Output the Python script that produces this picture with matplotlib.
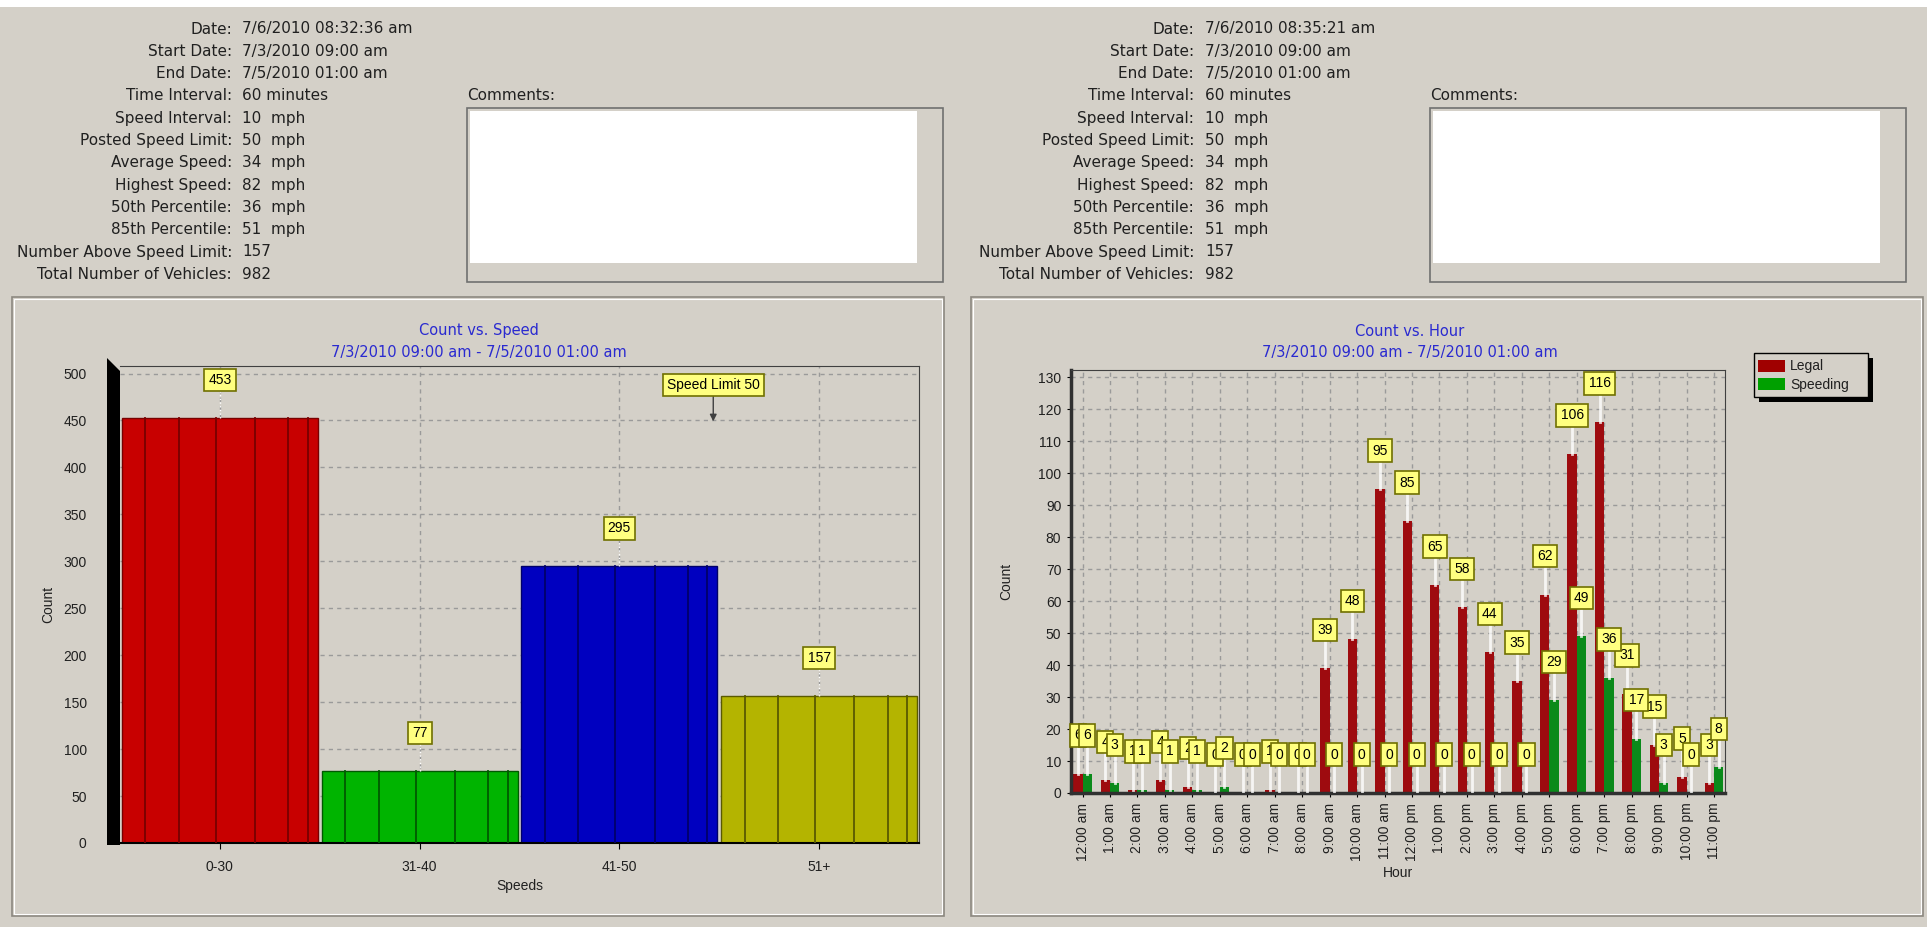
import matplotlib
matplotlib.use("Agg")
import matplotlib.pyplot as plt
from matplotlib.patches import Rectangle, Polygon
import numpy as np

plt.rcParams['font.family'] = ['Liberation Sans', 'DejaVu Sans']

W, H = 1927, 927
BG = '#d4d0c8'

# header info
hdr_labels = ["Date:", "Start Date:", "End Date:", "Time Interval:", "Speed Interval:",
              "Posted Speed Limit:", "Average Speed:", "Highest Speed:", "50th Percentile:",
              "85th Percentile:", "Number Above Speed Limit:", "Total Number of Vehicles:"]
left_vals = ["7/6/2010 08:32:36 am", "7/3/2010 09:00 am", "7/5/2010 01:00 am", "60 minutes",
             "10  mph", "50  mph", "34  mph", "82  mph", "36  mph", "51  mph", "157", "982"]
right_vals = ["7/6/2010 08:35:21 am", "7/3/2010 09:00 am", "7/5/2010 01:00 am", "60 minutes",
              "10  mph", "50  mph", "34  mph", "82  mph", "36  mph", "51  mph", "157", "982"]

# count vs speed
speed_cats = ["0-30", "31-40", "41-50", "51+"]
speed_counts = [453, 77, 295, 157]
speed_colors = ['#c80000', '#00b400', '#0000c0', '#b4b400']
speed_dark = ['#780000', '#005a00', '#00006a', '#5a5a00']
speed_limit = 50

# count vs hour
hours = ["12:00 am", "1:00 am", "2:00 am", "3:00 am", "4:00 am", "5:00 am", "6:00 am",
         "7:00 am", "8:00 am", "9:00 am", "10:00 am", "11:00 am", "12:00 pm", "1:00 pm",
         "2:00 pm", "3:00 pm", "4:00 pm", "5:00 pm", "6:00 pm", "7:00 pm", "8:00 pm",
         "9:00 pm", "10:00 pm", "11:00 pm"]
legal = [6, 4, 1, 4, 2, 0, 0, 1, 0, 39, 48, 95, 85, 65, 58, 44, 35, 62, 106, 116, 31, 15, 5, 3]
speeding = [6, 3, 1, 1, 1, 2, 0, 0, 0, 0, 0, 0, 0, 0, 0, 0, 0, 29, 49, 36, 17, 3, 0, 8]


def box(x0, y0, x1, y1):
    return [x0 / W, 1 - y1 / H, (x1 - x0) / W, (y1 - y0) / H]


def rect(x0, y0, x1, y1, **kw):
    fig.add_artist(Rectangle((x0 / W, 1 - y1 / H), (x1 - x0) / W, (y1 - y0) / H,
                             transform=fig.transFigure, **kw))


def ftext(x, y, s, **kw):
    fig.text(x / W, 1 - y / H, s, **kw)


fig = plt.figure(figsize=(W / 100, H / 100), dpi=100, facecolor=BG)

# window decorations
rect(0, 0, W, 7, fc='white', ec='none', zorder=-5)
rect(12, 297, 944, 916, fc=BG, ec='#8c8880', lw=1.2, zorder=-4)
rect(971, 297, 1923, 916, fc=BG, ec='#8c8880', lw=1.2, zorder=-4)
rect(14, 299, 942, 914, fc='none', ec='white', lw=0.8, zorder=-3)
rect(973, 299, 1921, 914, fc='none', ec='white', lw=0.8, zorder=-3)

label_kw = dict(fontsize=11, color='#202020', va='center', family='DejaVu Sans')
for xc, xv, vals, cx in [(232, 242, left_vals, 467), (1194, 1205, right_vals, 1430)]:
    for i, (lab, val) in enumerate(zip(hdr_labels, vals)):
        y = 29 + i * 22.3
        ftext(xc, y, lab, ha='right', **label_kw)
        ftext(xv, y, val, ha='left', **label_kw)
    ftext(cx, 96, "Comments:", ha='left', **label_kw)
    rect(cx, 108, cx + 476, 282, fc=BG, ec='#707070', lw=1.2, zorder=-2)
    rect(cx + 3, 111, cx + 450, 263, fc='white', ec='none', zorder=-1)

title_kw = dict(fontsize=10.5, color='#2a2ad0', ha='center', va='center', family='DejaVu Sans')
ftext(479, 331, "Count vs. Speed", **title_kw)
ftext(479, 352, "7/3/2010 09:00 am - 7/5/2010 01:00 am", **title_kw)
ftext(1410, 331, "Count vs. Hour", **title_kw)
ftext(1410, 352, "7/3/2010 09:00 am - 7/5/2010 01:00 am", **title_kw)

lbl_box = dict(boxstyle='square,pad=0.3', fc='#ffff80', ec='#707000', lw=1.2)
grid_kw = dict(color='#9a9a9a', lw=1, linestyle=(0, (3, 3)))

# ---- left chart: count vs speed ----
ax1 = fig.add_axes(box(120, 366, 919, 843))
ax1.set_facecolor(BG)
xs = np.arange(len(speed_cats))
ax1.bar(xs, speed_counts, width=0.98, color=speed_colors, edgecolor=speed_dark, lw=1, zorder=2)
fracs = [0.12, 0.29, 0.48, 0.68, 0.85, 0.95]
for i, c in enumerate(speed_counts):
    for f in fracs:
        xl = i - 0.49 + 0.98 * f
        ax1.plot([xl, xl], [0, c], color=speed_dark[i], lw=1.3, zorder=3)
    ax1.plot([i, i], [c, c + 40], color='white', lw=1, ls=':', zorder=3)
    ax1.text(i, c + 40, str(c), ha='center', va='center', fontsize=10, bbox=lbl_box, zorder=6)
ax1.annotate(f"Speed Limit {speed_limit}", xy=(2.47, 449), xytext=(2.47, 488),
             ha='center', va='center', fontsize=10, bbox=lbl_box, zorder=6,
             arrowprops=dict(arrowstyle='-|>', color='#404040', lw=1, shrinkA=0, shrinkB=0))
ax1.set_xlim(-0.5, 3.5)
ax1.set_ylim(0, 508)
ax1.set_yticks(np.arange(0, 501, 50))
ax1.set_xticks(xs)
ax1.set_xticklabels(speed_cats)
ax1.tick_params(axis='y', length=0, pad=24, labelsize=10, labelcolor='#202020')
ax1.tick_params(axis='x', length=4, pad=8, labelsize=10, labelcolor='#202020')
ax1.grid(True, **grid_kw)
ax1.set_axisbelow(True)
for s in ['top', 'right']:
    ax1.spines[s].set_color('#404040')
ax1.spines['left'].set_visible(False)
ax1.spines['bottom'].set_linewidth(1.5)
ax1.set_xlabel("Speeds", fontsize=10, labelpad=4, color='#202020')
ax1.set_ylabel("Count", fontsize=10, labelpad=6, color='#202020')
fig.add_artist(Polygon([(107 / W, 1 - 358 / H), (120 / W, 1 - 371 / H),
                        (120 / W, 1 - 845 / H), (107 / W, 1 - 845 / H)],
                       closed=True, fc='black', ec='none', transform=fig.transFigure, zorder=5))

# ---- right chart: count vs hour ----
ax2 = fig.add_axes(box(1071, 370, 1725, 793))
ax2.set_facecolor(BG)
xh = np.arange(len(hours))
off = 0.17
ax2.bar(xh - off, legal, 0.34, color='#9e0b0f', zorder=2)
ax2.bar(xh + off, speeding, 0.34, color='#0a8a1a', zorder=2)
for series, sgn in [(legal, -1), (speeding, 1)]:
    for xi, v in zip(xh, series):
        ax2.plot([xi + sgn * off] * 2, [v, v + 12], color='white', lw=2, alpha=0.8, zorder=3)
for series, sgn in [(legal, -1), (speeding, 1)]:
    for xi, v in zip(xh, series):
        ax2.text(xi + sgn * off, v + 12, str(v), ha='center', va='center', fontsize=10,
                 bbox=lbl_box, zorder=6)
ax2.set_xlim(-0.42, 23.4)
ax2.set_ylim(0, 132.2)
ax2.set_yticks(np.arange(0, 131, 10))
ax2.set_xticks(xh)
ax2.set_xticklabels(hours, rotation=90)
ax2.tick_params(axis='y', length=3, pad=4, labelsize=10, labelcolor='#202020')
ax2.tick_params(axis='x', length=3, pad=4, labelsize=10, labelcolor='#202020')
ax2.grid(True, **grid_kw)
ax2.set_axisbelow(True)
for s in ['left', 'bottom']:
    ax2.spines[s].set_linewidth(2.5)
    ax2.spines[s].set_color('#303030')
for s in ['top', 'right']:
    ax2.spines[s].set_color('#404040')
ax2.set_xlabel("Hour", fontsize=10, labelpad=4, color='#202020')
ax2.set_ylabel("Count", fontsize=10, labelpad=18, color='#202020')

# legend with drop shadow
rect(1759, 358, 1873, 402, fc='black', ec='none', zorder=7)
rect(1754, 353, 1868, 397, fc=BG, ec='black', lw=1, zorder=8)
rect(1758, 360, 1785, 372, fc='#a00000', ec='none', zorder=9)
rect(1758, 378, 1785, 390, fc='#00a000', ec='none', zorder=9)
ftext(1790, 366, "Legal", ha='left', va='center', fontsize=10, color='#202020', zorder=9)
ftext(1790, 385, "Speeding", ha='left', va='center', fontsize=10, color='#202020', zorder=9)

fig.savefig("out.png", dpi=100, facecolor=BG)
